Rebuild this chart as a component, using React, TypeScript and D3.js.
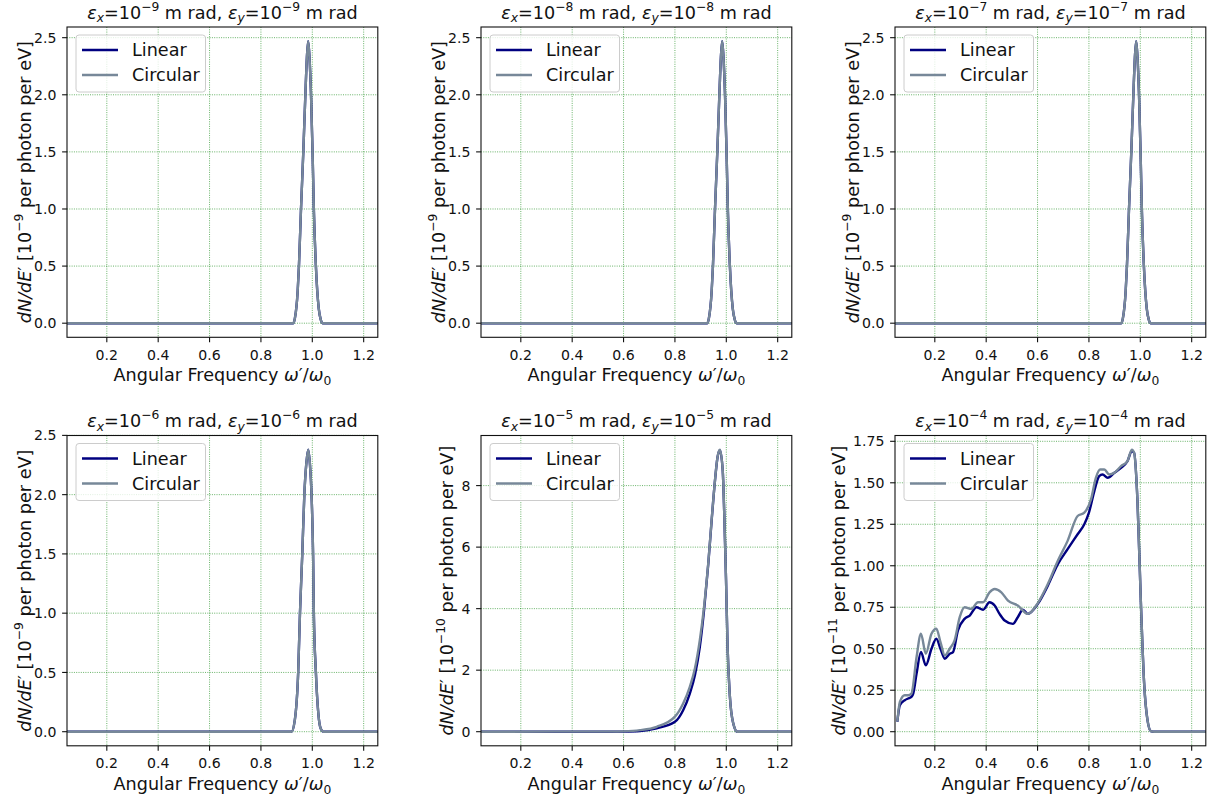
import React from 'react';
import * as d3 from 'd3';

// ---------- data ----------
const xTicks = [0.2, 0.4, 0.6, 0.8, 1.0, 1.2];
const emitExps = ['−9', '−8', '−7', '−6', '−5', '−4'];
const unitExps = ['−9', '−9', '−9', '−9', '−10', '−11'];

// narrow peak, panels 1-3 (both polarisations coincide)
const narrowX = [0.045, 0.926, 0.932, 0.943, 0.948, 0.956, 0.965, 0.973, 0.979, 0.984, 0.989, 0.995, 1.001, 1.006, 1.014, 1.025, 1.033, 1.040, 1.255];
const narrowY = [0, 0, 0.04, 0.28, 0.5, 1.0, 1.5, 2.0, 2.33, 2.47, 2.33, 2.0, 1.5, 1.0, 0.5, 0.13, 0.03, 0, 0];

// panel 4
const p4X = [0.045, 0.919, 0.932, 0.945, 0.952, 0.961, 0.969, 0.977, 0.984, 0.991, 0.997, 1.003, 1.006, 1.014, 1.026, 1.034, 1.043, 1.255];
const p4Y = [0, 0, 0.1, 0.5, 1.0, 1.5, 2.0, 2.27, 2.38, 2.25, 2.0, 1.5, 1.0, 0.5, 0.1, 0.02, 0, 0];

// panel 5
const p5X = [0.045, 0.55, 0.6, 0.664, 0.729, 0.8, 0.832, 0.858, 0.878, 0.897, 0.914, 0.93, 0.943, 0.956, 0.966, 0.975, 0.986, 0.992, 0.999, 1.005, 1.014, 1.027, 1.043, 1.255];
const p5Linear = [0, 0, 0.003, 0.02, 0.11, 0.32, 0.70, 1.24, 1.84, 2.76, 4.0, 5.47, 6.87, 8.17, 8.93, 9.15, 8.5, 7.09, 4.92, 2.76, 1.14, 0.27, 0, 0];
const p5Circular = [0, 0.002, 0.01, 0.05, 0.16, 0.49, 0.92, 1.46, 2.06, 2.98, 4.11, 5.5, 6.9, 8.18, 8.94, 9.17, 8.5, 7.09, 4.92, 2.76, 1.14, 0.27, 0, 0];

// panel 6
const p6X = [0.054, 0.064, 0.083, 0.096, 0.109, 0.116, 0.129, 0.146, 0.165, 0.187, 0.206, 0.222, 0.239, 0.258, 0.271, 0.29, 0.316, 0.336, 0.362, 0.388, 0.413, 0.433, 0.452, 0.472, 0.504, 0.523, 0.543, 0.562, 0.601, 0.64, 0.679, 0.717, 0.756, 0.782, 0.80, 0.821, 0.840, 0.853, 0.873, 0.899, 0.925, 0.95, 0.967, 0.976, 0.989, 1.002, 1.015, 1.028, 1.041, 1.054, 1.255];
const p6Linear = [0.06, 0.16, 0.19, 0.20, 0.21, 0.23, 0.35, 0.48, 0.40, 0.50, 0.56, 0.50, 0.44, 0.47, 0.48, 0.61, 0.68, 0.70, 0.75, 0.735, 0.78, 0.76, 0.71, 0.67, 0.65, 0.69, 0.735, 0.71, 0.77, 0.88, 1.01, 1.10, 1.19, 1.25, 1.32, 1.45, 1.54, 1.55, 1.53, 1.56, 1.59, 1.63, 1.69, 1.68, 1.39, 0.79, 0.29, 0.07, 0.004, 0, 0];
const p6CX = [0.054, 0.064, 0.083, 0.096, 0.109, 0.129, 0.146, 0.165, 0.187, 0.206, 0.222, 0.239, 0.258, 0.277, 0.297, 0.316, 0.342, 0.368, 0.388, 0.413, 0.433, 0.459, 0.485, 0.523, 0.562, 0.601, 0.64, 0.679, 0.717, 0.756, 0.782, 0.808, 0.827, 0.844, 0.86, 0.879, 0.899, 0.925, 0.95, 0.967, 0.976, 0.989, 1.002, 1.015, 1.028, 1.041, 1.054, 1.255];
const p6Circular = [0.06, 0.18, 0.22, 0.22, 0.23, 0.45, 0.59, 0.47, 0.59, 0.62, 0.54, 0.46, 0.50, 0.55, 0.69, 0.75, 0.74, 0.78, 0.78, 0.84, 0.86, 0.84, 0.79, 0.76, 0.71, 0.775, 0.89, 1.03, 1.15, 1.30, 1.32, 1.40, 1.53, 1.58, 1.58, 1.55, 1.56, 1.60, 1.63, 1.70, 1.68, 1.39, 0.79, 0.29, 0.07, 0.004, 0, 0];

const ticks25 = [0, 0.5, 1.0, 1.5, 2.0, 2.5];
const ticks8 = [0, 2, 4, 6, 8];
const ticks175 = [0, 0.25, 0.5, 0.75, 1.0, 1.25, 1.5, 1.75];

const seriesNames = ['Linear', 'Circular'];
const colors = ['#000080', '#778899'];

type Panel = {
  linX: number[]; linY: number[]; cirX: number[]; cirY: number[];
  yTicks: number[]; fmt: string;
};

const panels: Panel[] = [
  { linX: narrowX, linY: narrowY, cirX: narrowX, cirY: narrowY, yTicks: ticks25, fmt: '.1f' },
  { linX: narrowX, linY: narrowY, cirX: narrowX, cirY: narrowY, yTicks: ticks25, fmt: '.1f' },
  { linX: narrowX, linY: narrowY, cirX: narrowX, cirY: narrowY, yTicks: ticks25, fmt: '.1f' },
  { linX: p4X, linY: p4Y, cirX: p4X, cirY: p4Y, yTicks: ticks25, fmt: '.1f' },
  { linX: p5X, linY: p5Linear, cirX: p5X, cirY: p5Circular, yTicks: ticks8, fmt: 'd' },
  { linX: p6X, linY: p6Linear, cirX: p6CX, cirY: p6Circular, yTicks: ticks175, fmt: '.2f' },
];

// ---------- layout ----------
const W = 1214, H = 797;
const lefts = [67, 481, 895];
const tops = [27, 435.5];
const ylabOffsets = [36, 36, 36, 36, 28.5, 50];
const PW = 310.8, PH = 310.3;
const FONT = 'DejaVu Sans, Verdana, sans-serif';
const TICK_FS = 14.1;
const LAB_FS = 17.6;
const LW = 2.4;

type Seg = { t: string; it?: boolean; sub?: boolean; sup?: boolean };

function rich(segs: Seg[], size: number) {
  let prev = 0;
  return segs.map((s, i) => {
    const shift = s.sup ? -0.45 * size : s.sub ? 0.22 * size : 0;
    const dy = shift - prev;
    prev = shift;
    return (
      <tspan key={i} dy={dy} fontStyle={s.it ? 'italic' : 'normal'} fontSize={s.sup || s.sub ? size * 0.7 : size}>
        {s.t}
      </tspan>
    );
  });
}

function PanelView({ p, i }: { p: Panel; i: number }) {
  const left = lefts[i % 3];
  const top = tops[Math.floor(i / 3)];
  const x = d3.scaleLinear().domain([0.045, 1.255]).range([left, left + PW]);
  const maxY = Math.max(d3.max(p.linY)!, d3.max(p.cirY)!);
  const pad = maxY * 0.05;
  const y = d3.scaleLinear().domain([-pad, maxY + pad]).range([top + PH, top]);
  const fmt = d3.format(p.fmt);
  const line = (xs: number[], ys: number[]) =>
    d3.line<number>().x((_, k) => x(xs[k])).y((d) => y(d)).curve(d3.curveMonotoneX)(ys) || '';
  const clipId = `clip${i}`;
  const exp = emitExps[i];
  const title: Seg[] = [
    { t: 'ε', it: true }, { t: 'x', it: true, sub: true }, { t: '=10' }, { t: exp, sup: true },
    { t: ' m rad, ' }, { t: 'ε', it: true }, { t: 'y', it: true, sub: true }, { t: '=10' }, { t: exp, sup: true },
    { t: ' m rad' },
  ];
  const ylab: Seg[] = [
    { t: 'dN/dE', it: true }, { t: '′' }, { t: ' [10' }, { t: unitExps[i], sup: true }, { t: ' per photon per eV]' },
  ];
  const xlab: Seg[] = [
    { t: 'Angular Frequency ' }, { t: 'ω', it: true }, { t: '′' }, { t: '/' }, { t: 'ω', it: true }, { t: '0', sub: true },
  ];
  const cx = left + PW / 2;
  const cy = top + PH / 2;
  return (
    <g>
      <defs>
        <clipPath id={clipId}>
          <rect x={left} y={top} width={PW} height={PH} />
        </clipPath>
      </defs>
      <rect x={left} y={top} width={PW} height={PH} fill="white" />
      {/* grid */}
      {xTicks.map((t) => (
        <line key={'gx' + t} x1={x(t)} x2={x(t)} y1={top} y2={top + PH} stroke="green" strokeOpacity={0.75} strokeWidth={0.8} strokeDasharray="1 1.3" />
      ))}
      {p.yTicks.map((t) => (
        <line key={'gy' + t} x1={left} x2={left + PW} y1={y(t)} y2={y(t)} stroke="green" strokeOpacity={0.75} strokeWidth={0.8} strokeDasharray="1 1.3" />
      ))}
      {/* series */}
      <g clipPath={`url(#${clipId})`}>
        <path d={line(p.linX, p.linY)} fill="none" stroke={colors[0]} strokeWidth={LW} strokeLinejoin="round" />
        <path d={line(p.cirX, p.cirY)} fill="none" stroke={colors[1]} strokeWidth={LW} strokeLinejoin="round" />
      </g>
      {/* spines */}
      <rect x={left} y={top} width={PW} height={PH} fill="none" stroke="#111" strokeWidth={1.1} />
      {/* ticks */}
      {xTicks.map((t) => (
        <g key={'tx' + t}>
          <line x1={x(t)} x2={x(t)} y1={top + PH} y2={top + PH + 4.9} stroke="#111" strokeWidth={1.1} />
          <text x={x(t)} y={top + PH + 22.3} textAnchor="middle" fontFamily={FONT} fontSize={TICK_FS} fill="#111">
            {d3.format('.1f')(t)}
          </text>
        </g>
      ))}
      {p.yTicks.map((t) => (
        <g key={'ty' + t}>
          <line x1={left - 4.9} x2={left} y1={y(t)} y2={y(t)} stroke="#111" strokeWidth={1.1} />
          <text x={left - 10.5} y={y(t) + 5.1} textAnchor="end" fontFamily={FONT} fontSize={TICK_FS} fill="#111">
            {fmt(t)}
          </text>
        </g>
      ))}
      {/* labels */}
      <text x={cx} y={top - 8.5} textAnchor="middle" fontFamily={FONT} fontSize={LAB_FS} fill="#111">
        {rich(title, LAB_FS)}
      </text>
      <text x={cx} y={top + PH + 44} textAnchor="middle" fontFamily={FONT} fontSize={LAB_FS} fill="#111">
        {rich(xlab, LAB_FS)}
      </text>
      <text transform={`translate(${left - ylabOffsets[i]},${cy}) rotate(-90)`} textAnchor="middle" fontFamily={FONT} fontSize={LAB_FS} fill="#111">
        {rich(ylab, LAB_FS)}
      </text>
      {/* legend */}
      <rect x={left + 9} y={top + 8} width={129.5} height={57} rx={3} fill="white" fillOpacity={0.8} stroke="#cccccc" strokeWidth={1} />
      {seriesNames.map((n, k) => (
        <g key={n}>
          <line x1={left + 15} x2={left + 51} y1={top + 23 + 25 * k} y2={top + 23 + 25 * k} stroke={colors[k]} strokeWidth={LW} />
          <text x={left + 65} y={top + 29.2 + 25 * k} fontFamily={FONT} fontSize={LAB_FS} fill="#111">{n}</text>
        </g>
      ))}
    </g>
  );
}

export default function App() {
  return (
    <svg width={W} height={H} style={{ position: 'absolute', left: 0, top: 0, display: 'block', background: 'white' }}>
      <rect width={W} height={H} fill="white" />
      {panels.map((p, i) => (
        <PanelView key={i} p={p} i={i} />
      ))}
    </svg>
  );
}
